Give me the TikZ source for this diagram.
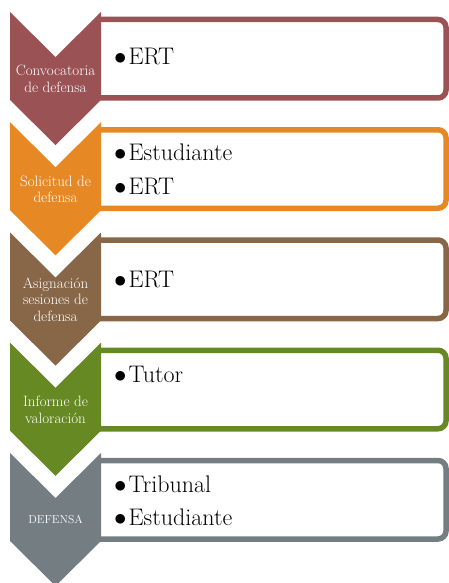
\documentclass[tikz,border=0pt]{standalone}
\definecolor{stepA}{HTML}{9B5255}
\definecolor{stepB}{HTML}{E68925}
\definecolor{stepC}{HTML}{876748}
\definecolor{stepD}{HTML}{678923}
\definecolor{stepE}{HTML}{747E82}
\newcommand{\itm}[1]{$\bullet$\hspace{2pt}#1}
\tikzset{
  stepbox/.style={line width=5.5pt,fill=white,rounded corners=8pt},
  steptext/.style={text=white,align=center,inner sep=0pt,font=\fontsize{15}{16.5}\selectfont},
  itemtext/.style={anchor=base west,inner sep=0pt,font=\fontsize{24}{33}\selectfont}
}

\begin{document}
\begin{tikzpicture}[x=1pt,y=-1pt]
            \useasboundingbox (0,0) rectangle (449,583);
            \foreach \i/\col/\lab in {0/stepA/{Convocatoria\\de defensa},1/stepB/{Solicitud de\\defensa},2/stepC/{Asignación\\sesiones de\\defensa},3/stepD/{Informe de\\valoración},4/stepE/{\fontsize{11.5}{13}\selectfont DEFENSA}}{
                \pgfmathsetmacro{\ty}{12+110.25*\i}
                \draw[stepbox,draw=\col] (99,\ty+7.5)--(446,\ty+7.5)--(446,\ty+86)--(99,\ty+86);
                \fill[\col] (10,\ty)--(55.5,\ty+45)--(101,\ty)--(101,\ty+88)--(55.5,\ty+133)--(10,\ty+88)--cycle;
                \node[steptext] (s\i) at (55.5,\ty+67) {\lab};
            }
            \node[itemtext] (ert1) at (114,65) {\itm{ERT}};
            \node[itemtext] (est2) at (114,160) {\itm{Estudiante}};
            \node[itemtext] (ert2) at (114,194) {\itm{ERT}};
            \node[itemtext] (ert3) at (114,287) {\itm{ERT}};
            \node[itemtext] (tut4) at (114,382) {\itm{Tutor}};
            \node[itemtext] (tri5) at (114,492) {\itm{Tribunal}};
            \node[itemtext] (est5) at (114,525) {\itm{Estudiante}};
        \end{tikzpicture}
\end{document}
